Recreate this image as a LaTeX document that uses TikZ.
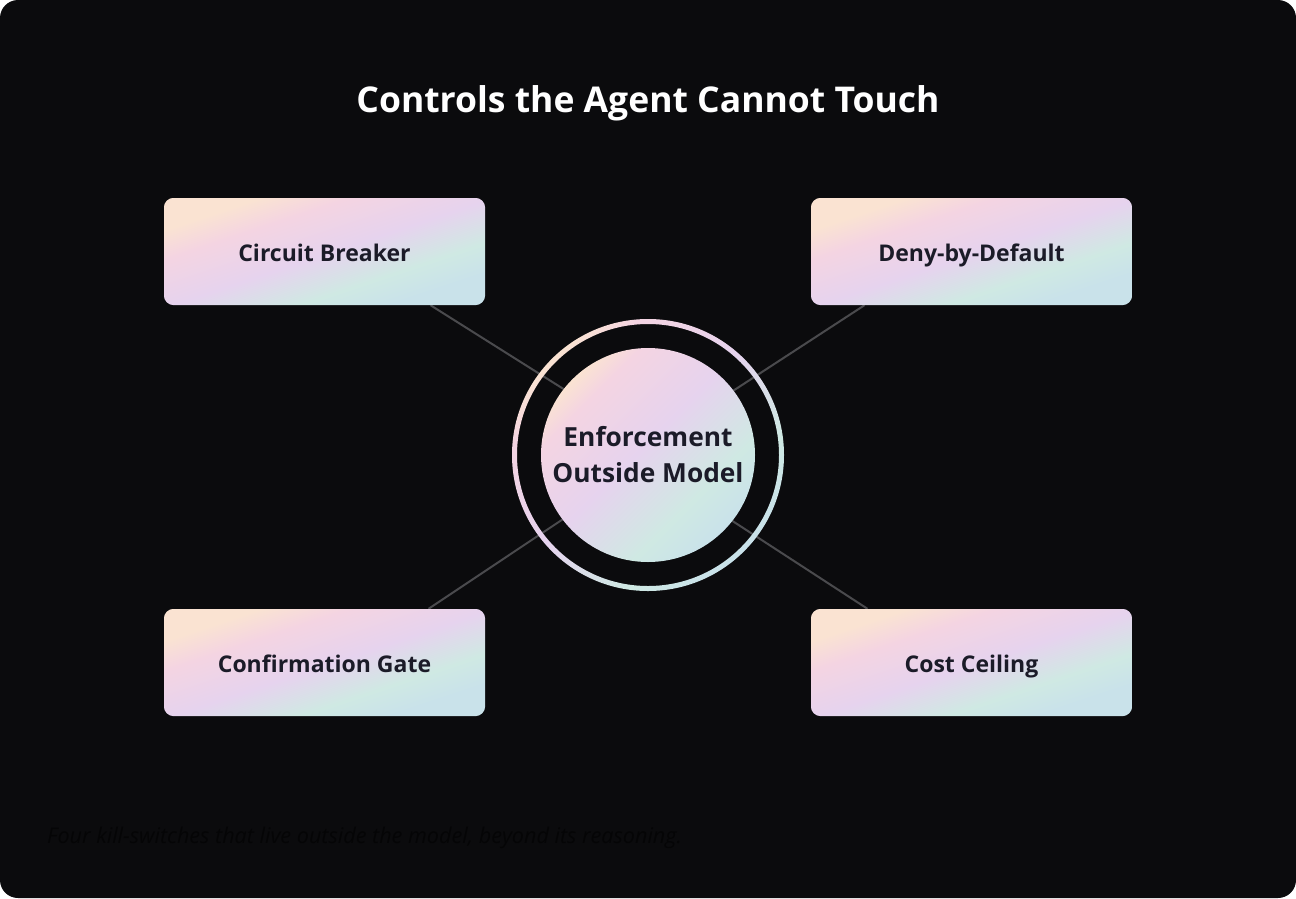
\documentclass[tikz,border=0pt]{standalone}
\usepackage{fontspec}
\setmainfont{Open Sans}
\definecolor{bgc}{HTML}{0B0B0D}
\definecolor{gPeach}{HTML}{FAE3D2}
\definecolor{gPink}{HTML}{F4D4E2}
\definecolor{gLilac}{HTML}{E6D3EE}
\definecolor{gMint}{HTML}{CFE9E3}
\definecolor{gBlue}{HTML}{C9E2EA}
\definecolor{ink}{HTML}{1B1B28}
\definecolor{linkc}{HTML}{4A4A4D}
\definecolor{capc}{HTML}{050506}
\pgfdeclarehorizontalshading{softgrad}{100bp}{color(0bp)=(gPeach); color(25bp)=(gPeach); color(35bp)=(gPink); color(51bp)=(gLilac); color(65bp)=(gMint); color(75bp)=(gBlue); color(100bp)=(gBlue)}
\pgfdeclarehorizontalshading{roundgrad}{100bp}{color(0bp)=(gPeach); color(25bp)=(gPeach); color(31bp)=(gPink); color(48bp)=(gLilac); color(65bp)=(gMint); color(75bp)=(gBlue); color(100bp)=(gBlue)}
\pgfdeclarelayer{bglayer}
\pgfdeclarelayer{edges}
\pgfdeclarelayer{cards}
\pgfsetlayers{bglayer,edges,cards,main}
\tikzset{
  card/.style={rectangle, minimum width=321pt, minimum height=107pt, inner sep=0pt, text=ink,
    font=\fontsize{23}{27}\selectfont\bfseries, text height=23pt, text depth=3.6pt},
  core/.style={circle, shade, shading=roundgrad, shading angle=-45, minimum size=214pt,
    inner sep=0pt, text=ink, align=center, font=\fontsize{26.3}{36}\selectfont\bfseries},
  link/.style={draw=linkc, line width=2pt},
}
\newcommand\cardshade[1]{%
  \begin{scope}
    \clip[rounded corners=10pt] (#1.south west) rectangle (#1.north east);
    \shade[shading=softgrad, shading angle=-45,
      transform canvas={shift={(#1.center)}, xscale=3.21, yscale=1.07}]
      (-50,-50) rectangle (50,50);
  \end{scope}}
\begin{document}
\begin{tikzpicture}[x=1pt,y=-1pt]
\begin{pgfonlayer}{bglayer}
\useasboundingbox (0,0) rectangle (1296,898);
\fill[white] (0,0) rectangle (1296,898);
\fill[bgc, rounded corners=18pt] (0,0) rectangle (1296,898);
\end{pgfonlayer}

\node[anchor=base, text=white, font=\fontsize{35.5}{42}\selectfont\bfseries] (title) at (648,112) {Controls the Agent Cannot Touch};

\node[card] (cb) at (324.5,251.5) {Circuit Breaker};
\node[card] (dd) at (971.5,251.5) {Deny-by-Default};
\node[card] (cg) at (324.5,662.5) {Confirmation Gate};
\node[card] (cc) at (971.5,662.5) {Cost Ceiling};

\begin{pgfonlayer}{cards}
\cardshade{cb}
\cardshade{dd}
\cardshade{cg}
\cardshade{cc}
\end{pgfonlayer}

\node[core] (core) at (648,455) {Enforcement\\Outside Model};
\shade[shading=roundgrad, shading angle=-45, even odd rule] (core.center) circle[radius=136pt] circle[radius=131pt];

\begin{pgfonlayer}{edges}
\draw[link] ([xshift=106pt]cb.south) -- (core.142.6);
\draw[link] ([xshift=-107pt]dd.south) -- (core.37.4);
\draw[link] ([xshift=104pt]cg.north) -- (core.217.4);
\draw[link] ([xshift=-104pt]cc.north) -- (core.322.6);
\end{pgfonlayer}

\node[anchor=base west, inner sep=0pt, text=capc, font=\fontsize{21.6}{26}\selectfont\itshape] (caption) at (47,843) {Four kill-switches that live outside the model, beyond its reasoning.};
\end{tikzpicture}
\end{document}
